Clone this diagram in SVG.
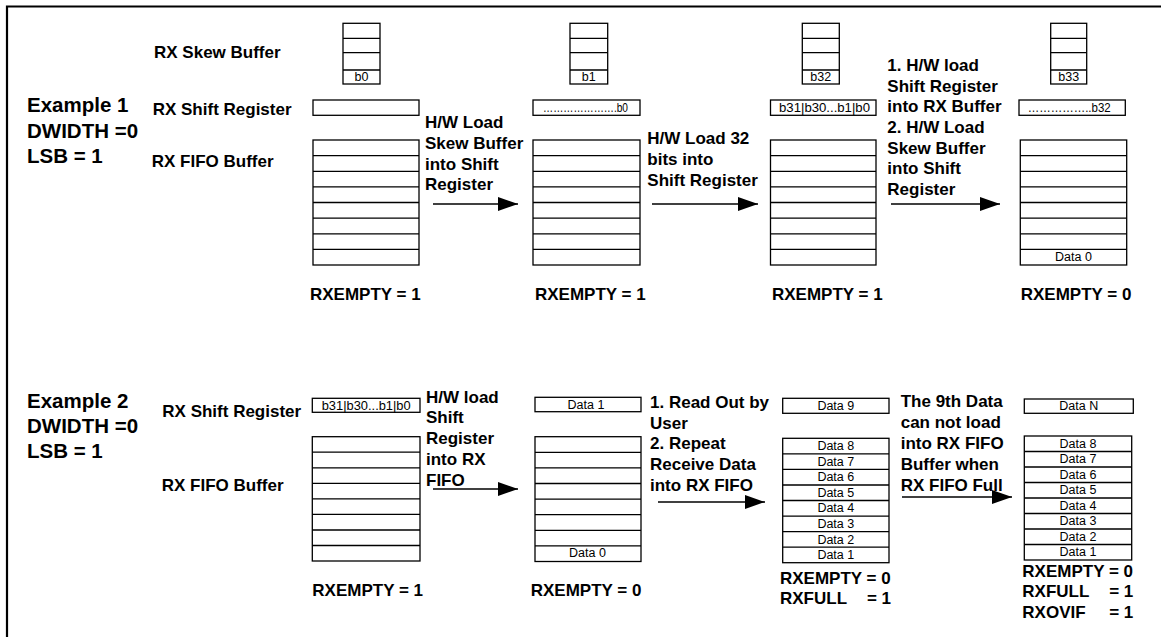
<svg xmlns="http://www.w3.org/2000/svg" width="1166" height="637" viewBox="0 0 1166 637">
<defs>
<style>
.bx{fill:#fff;stroke:#000;stroke-width:1.3}
.ln{stroke:#000;stroke-width:1.3}
.fr{stroke:#000;stroke-width:2.2;fill:none}
.big{font-family:"Liberation Sans",Arial,sans-serif;font-weight:bold;font-size:20.5px;fill:#000}
.lbl{font-family:"Liberation Sans",Arial,sans-serif;font-weight:bold;font-size:17px;fill:#000}
.sm{font-family:"Liberation Sans",Arial,sans-serif;font-size:12.5px;fill:#000}
.mid{text-anchor:middle}
.conn{stroke:#000;stroke-width:1.7;fill:none;marker-end:url(#ah)}
</style>
<marker id="ah" markerUnits="userSpaceOnUse" markerWidth="20" markerHeight="14" refX="20" refY="7" orient="auto">
<path d="M0,0 L20,7 L0,14 z" fill="#000"/>
</marker>
</defs>
<rect width="1166" height="637" fill="#fff"/>
<path class="fr" d="M7,637 V6.5 H1161"/>

<g id="ex1-labels">
<text class="big" x="27" y="112">Example 1</text>
<text class="big" x="27" y="137.5">DWIDTH =0</text>
<text class="big" x="27" y="163">LSB = 1</text>
<text class="lbl" x="154" y="58">RX Skew Buffer</text>
<text class="lbl" x="152.7" y="115">RX Shift Register</text>
<text class="lbl" x="151.7" y="167">RX FIFO Buffer</text>
</g>

<g id="ex1-col1">
<rect class="bx" x="343" y="23.3" width="37" height="60.7"/>
<path class="ln" d="M343,38.3H380M343,52.7H380M343,70H380"/>
<text class="sm mid" x="361.5" y="81">b0</text>
<rect class="bx" x="313" y="100" width="106" height="15.3"/>
<rect class="bx" x="313" y="140" width="106" height="125"/>
<path class="ln" d="M313,155.6H419M313,171.3H419M313,186.9H419M313,202.5H419M313,218.1H419M313,233.8H419M313,249.4H419"/>
<text class="lbl" x="310" y="300">RXEMPTY = 1</text>
</g>

<g id="ex1-col2">
<rect class="bx" x="570" y="23.3" width="37.7" height="60.7"/>
<path class="ln" d="M570,38.3H607.7M570,52.7H607.7M570,70H607.7"/>
<text class="sm mid" x="588.8" y="81">b1</text>
<rect class="bx" x="533" y="100" width="107" height="15.3"/>
<text class="sm" x="543" y="111.5" textLength="85" lengthAdjust="spacingAndGlyphs">………………….b0</text>
<rect class="bx" x="533" y="140" width="107" height="125"/>
<path class="ln" d="M533,155.6H640M533,171.3H640M533,186.9H640M533,202.5H640M533,218.1H640M533,233.8H640M533,249.4H640"/>
<text class="lbl" x="535" y="300">RXEMPTY = 1</text>
</g>

<g id="ex1-col3">
<rect class="bx" x="802.3" y="23.3" width="37" height="60.7"/>
<path class="ln" d="M802.3,38.3H839.3M802.3,52.7H839.3M802.3,70H839.3"/>
<text class="sm mid" x="820.8" y="81">b32</text>
<rect class="bx" x="770.5" y="100" width="105.5" height="15.3"/>
<text class="sm" x="779" y="111.5" textLength="91" lengthAdjust="spacingAndGlyphs">b31|b30...b1|b0</text>
<rect class="bx" x="770.5" y="140" width="105.5" height="125"/>
<path class="ln" d="M770.5,155.6H876M770.5,171.3H876M770.5,186.9H876M770.5,202.5H876M770.5,218.1H876M770.5,233.8H876M770.5,249.4H876"/>
<text class="lbl" x="772" y="300">RXEMPTY = 1</text>
</g>

<g id="ex1-col4">
<rect class="bx" x="1050.7" y="23.3" width="36" height="60.7"/>
<path class="ln" d="M1050.7,38.3H1086.7M1050.7,52.7H1086.7M1050.7,70H1086.7"/>
<text class="sm mid" x="1068.7" y="81">b33</text>
<rect class="bx" x="1019" y="100" width="106.3" height="15.3"/>
<text class="sm" x="1027.7" y="111.5" textLength="83" lengthAdjust="spacingAndGlyphs">……………..b32</text>
<rect class="bx" x="1020.3" y="140" width="106.4" height="125"/>
<path class="ln" d="M1020.3,155.6H1126.7M1020.3,171.3H1126.7M1020.3,186.9H1126.7M1020.3,202.5H1126.7M1020.3,218.1H1126.7M1020.3,233.8H1126.7M1020.3,249.4H1126.7"/>
<text class="sm mid" x="1073.5" y="261">Data 0</text>
<text class="lbl" x="1020.7" y="300">RXEMPTY = 0</text>
</g>

<g id="ex1-step1">
<text class="lbl" x="425" y="128.3">H/W Load</text>
<text class="lbl" x="425" y="149">Skew Buffer</text>
<text class="lbl" x="425" y="169.5">into Shift</text>
<text class="lbl" x="425" y="190">Register</text>
</g>
<g id="ex1-step2">
<text class="lbl" x="647.3" y="144">H/W Load 32</text>
<text class="lbl" x="647.3" y="165">bits into</text>
<text class="lbl" x="647.3" y="186">Shift Register</text>
</g>
<g id="ex1-step3">
<text class="lbl" x="887.3" y="70.7">1. H/W load</text>
<text class="lbl" x="887.3" y="91.5">Shift Register</text>
<text class="lbl" x="887.3" y="112.3">into RX Buffer</text>
<text class="lbl" x="887.3" y="133">2. H/W Load</text>
<text class="lbl" x="887.3" y="153.7">Skew Buffer</text>
<text class="lbl" x="887.3" y="174.3">into Shift</text>
<text class="lbl" x="887.3" y="195">Register</text>
</g>

<g id="ex2-labels">
<text class="big" x="27" y="408">Example 2</text>
<text class="big" x="27" y="433">DWIDTH =0</text>
<text class="big" x="27" y="458">LSB = 1</text>
<text class="lbl" x="162.3" y="416.7">RX Shift Register</text>
<text class="lbl" x="161.7" y="491">RX FIFO Buffer</text>
</g>

<g id="ex2-col1">
<rect class="bx" x="312.3" y="398.3" width="107.7" height="14"/>
<text class="sm" x="321.7" y="409.5" textLength="89" lengthAdjust="spacingAndGlyphs">b31|b30...b1|b0</text>
<rect class="bx" x="312.3" y="436.7" width="107.7" height="124.3"/>
<path class="ln" d="M312.3,452.2H420M312.3,467.8H420M312.3,483.3H420M312.3,498.9H420M312.3,514.4H420M312.3,530H420M312.3,545.5H420"/>
<text class="lbl" x="312.3" y="596">RXEMPTY = 1</text>
</g>

<g id="ex2-col2">
<rect class="bx" x="535" y="397.3" width="106" height="14.4"/>
<text class="sm mid" x="586" y="408.5">Data 1</text>
<rect class="bx" x="535" y="436.7" width="106" height="124.8"/>
<path class="ln" d="M535,452.3H641M535,467.9H641M535,483.5H641M535,499.1H641M535,514.7H641M535,530.3H641M535,545.9H641"/>
<text class="sm mid" x="587.5" y="557">Data 0</text>
<text class="lbl" x="530.7" y="596">RXEMPTY = 0</text>
</g>

<g id="ex2-col3">
<rect class="bx" x="782.7" y="398.3" width="106.3" height="15"/>
<text class="sm mid" x="835.8" y="410">Data 9</text>
<rect class="bx" x="782.7" y="438.3" width="106.3" height="124.4"/>
<path class="ln" d="M782.7,453.9H889M782.7,469.4H889M782.7,485H889M782.7,500.5H889M782.7,516.1H889M782.7,531.6H889M782.7,547.2H889"/>
<text class="sm mid" x="835.8" y="450.2">Data 8</text>
<text class="sm mid" x="835.8" y="465.8">Data 7</text>
<text class="sm mid" x="835.8" y="481.3">Data 6</text>
<text class="sm mid" x="835.8" y="496.9">Data 5</text>
<text class="sm mid" x="835.8" y="512.4">Data 4</text>
<text class="sm mid" x="835.8" y="528">Data 3</text>
<text class="sm mid" x="835.8" y="543.5">Data 2</text>
<text class="sm mid" x="835.8" y="559">Data 1</text>
<text class="lbl" x="780" y="584">RXEMPTY = 0</text>
<text class="lbl" x="780" y="604">RXFULL<tspan x="866.9">= 1</tspan></text>
</g>

<g id="ex2-col4">
<rect class="bx" x="1024.3" y="399" width="109" height="14.3"/>
<text class="sm mid" x="1078.8" y="410">Data N</text>
<rect class="bx" x="1024.3" y="436" width="107.4" height="124"/>
<path class="ln" d="M1024.3,451.5H1131.7M1024.3,467H1131.7M1024.3,482.5H1131.7M1024.3,498H1131.7M1024.3,513.5H1131.7M1024.3,529H1131.7M1024.3,544.5H1131.7"/>
<text class="sm mid" x="1078" y="447.5">Data 8</text>
<text class="sm mid" x="1078" y="463">Data 7</text>
<text class="sm mid" x="1078" y="478.5">Data 6</text>
<text class="sm mid" x="1078" y="494">Data 5</text>
<text class="sm mid" x="1078" y="509.5">Data 4</text>
<text class="sm mid" x="1078" y="525">Data 3</text>
<text class="sm mid" x="1078" y="540.5">Data 2</text>
<text class="sm mid" x="1078" y="556">Data 1</text>
<text class="lbl" x="1022.3" y="577.3">RXEMPTY = 0</text>
<text class="lbl" x="1022.3" y="597.3">RXFULL<tspan x="1109.2">= 1</tspan></text>
<text class="lbl" x="1022.3" y="618.3">RXOVIF<tspan x="1109.2">= 1</tspan></text>
</g>

<g id="ex2-step1">
<text class="lbl" x="426" y="402.7">H/W load</text>
<text class="lbl" x="426" y="423.3">Shift</text>
<text class="lbl" x="426" y="444.3">Register</text>
<text class="lbl" x="426" y="465">into RX</text>
<text class="lbl" x="426" y="486">FIFO</text>
</g>
<g id="ex2-step2">
<text class="lbl" x="650" y="408.3">1. Read Out by</text>
<text class="lbl" x="650" y="428.8">User</text>
<text class="lbl" x="650" y="449.3">2. Repeat</text>
<text class="lbl" x="650" y="470">Receive Data</text>
<text class="lbl" x="650" y="490.7">into RX FIFO</text>
</g>
<g id="ex2-step3">
<text class="lbl" x="900.7" y="407.3">The 9th Data</text>
<text class="lbl" x="900.7" y="428.3">can not load</text>
<text class="lbl" x="900.7" y="449.3">into RX FIFO</text>
<text class="lbl" x="900.7" y="470">Buffer when</text>
<text class="lbl" x="900.7" y="491">RX FIFO Full</text>
</g>

<g id="connectors">
<line class="conn" x1="433" y1="204" x2="518" y2="204"/>
<line class="conn" x1="652" y1="204" x2="758" y2="204"/>
<line class="conn" x1="891" y1="204" x2="1000" y2="204"/>
<line class="conn" x1="433" y1="489" x2="518" y2="489"/>
<line class="conn" x1="658" y1="502" x2="765" y2="502"/>
<line class="conn" x1="902" y1="497" x2="1012" y2="497"/>
</g>
</svg>
